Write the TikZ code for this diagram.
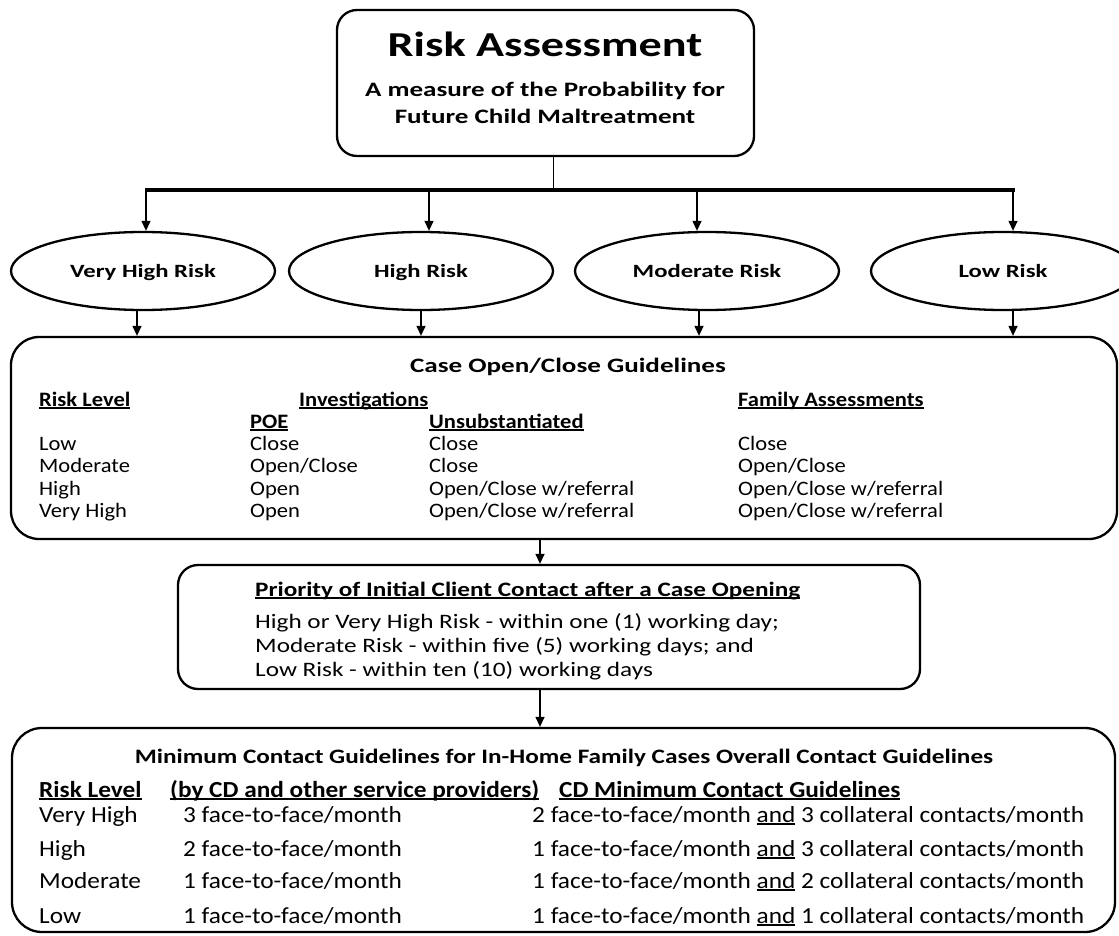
\documentclass[tikz,border=0pt]{standalone}
\usepackage{fontspec}
\setmainfont{Carlito}[FakeStretch=1.1]
\newfontfamily\widefont{Carlito}[FakeStretch=1.23]
\newfontfamily\titlefont{Carlito}[FakeStretch=1.32]
\usepackage{tikz}
\usetikzlibrary{shapes,positioning,calc}
\usetikzlibrary{shapes.geometric, arrows}
\usetikzlibrary{arrows.meta}
\tikzstyle{arrow} = [line width=1.3pt,-{Triangle[length=10pt,width=9pt]}]
\newlength\ulwd
\newcommand{\undl}[1]{\settowidth{\ulwd}{#1}\rlap{\rule[-2.6pt]{\ulwd}{1.2pt}}#1}

\begin{document}
\begin{tikzpicture}[x=1pt,y=-1pt,
	frame/.style={draw, line width=2.3pt, rounded corners=#1, inner sep=0pt},
	risk/.style={ellipse, draw, line width=2.3pt, minimum width=264pt, minimum height=78pt, inner sep=0pt, text height=12pt, text depth=0pt, font=\titlefont\fontsize{18.7}{20}\selectfont\bfseries},
	heading/.style={anchor=base, inner sep=0pt, font=\titlefont\fontsize{20.5}{22}\selectfont\bfseries},
	cell/.style={anchor=base west, inner sep=0pt, font=\fontsize{20.5}{22}\selectfont},
	head/.style={cell, font=\fontsize{20.5}{22}\selectfont\bfseries},
	line/.style={cell, font=\widefont\fontsize{20.5}{22}\selectfont},
	wide/.style={anchor=base west, inner sep=0pt, font=\fontsize{23}{25}\selectfont},
	widehead/.style={wide, font=\fontsize{23}{25}\selectfont\bfseries}]
	\clip (0,0) rectangle (1119,936);
	
	% RISK ASSESSMENT
	
	\node [frame=20pt, minimum width=417pt, minimum height=146pt] (assess) at (545.5,83) {};
	\node [heading, font=\titlefont\fontsize{35}{40}\selectfont\bfseries] (assesstitle) at (545,57) {Risk Assessment};
	\node [heading] (assesssub1) at (545,97) {A measure of the Probability for};
	\node [heading] (assesssub2) at (545,124) {Future Child Maltreatment};
	
	% RISK LEVELS
	
	\node [risk] (vhigh) at (143,271) {Very High Risk};
	\node [risk] (high) at (421,271) {High Risk};
	\node [risk] (moder) at (707,271) {Moderate Risk};
	\node [risk] (low) at (1003,271) {Low Risk};
	
	\coordinate (barL) at (146,190);
	\coordinate (barR) at (1014,190);
	\draw [line width=1.6pt] ([xshift=8pt]assess.south) -- ([xshift=8pt]assess.south |- barL);
	\draw [line width=4pt] ([xshift=-0.65pt]barL) -- ([xshift=0.65pt]barR);
	\foreach \x/\e in {146/vhigh,429/high,697/moder,1013/low}{
		\coordinate (drop\e) at (\x,190);
		\draw [arrow] (drop\e) -- (drop\e |- \e.north);
	}
	
	% CASE OPEN/CLOSE
	
	\node [frame=28pt, minimum width=1106pt, minimum height=202pt] (caseopen) at (564,438) {};
	\foreach \e/\s in {vhigh/-6,high/0,moder/-8,low/10}
		\draw [arrow] ($(\e.south)+(\s,0)$) -- ($(\e.south |- caseopen.north)+(\s,0)$);
	
	\node [heading] (casetitle) at (568,372) {Case Open/Close Guidelines};
	\node [head] (caselevel) at (39,406) {\undl{Risk Level}};
	\node [head] (caseinv) at (299,406) {\undl{Investigations}};
	\node [head] (casefam) at (738,406) {\undl{Family Assessments}};
	\node [head] (casepoe) at (250,428) {\undl{POE}};
	\node [head] (caseunsub) at (429,428) {\undl{Unsubstantiated}};
	
	\node [cell] (lowA) at (39,450) {Low};
	\node [cell] (lowB) at (250,450) {Close};
	\node [cell] (lowC) at (429,450) {Close};
	\node [cell] (lowD) at (738,450) {Close};
	\node [cell] (modA) at (39,472) {Moderate};
	\node [cell] (modB) at (250,472) {Open/Close};
	\node [cell] (modC) at (429,472) {Close};
	\node [cell] (modD) at (738,472) {Open/Close};
	\node [cell] (hiA) at (39,495) {High};
	\node [cell] (hiB) at (250,495) {Open};
	\node [cell] (hiC) at (429,495) {Open/Close w/referral};
	\node [cell] (hiD) at (738,495) {Open/Close w/referral};
	\node [cell] (vhiA) at (39,517) {Very High};
	\node [cell] (vhiB) at (250,517) {Open};
	\node [cell] (vhiC) at (429,517) {Open/Close w/referral};
	\node [cell] (vhiD) at (738,517) {Open/Close w/referral};
	
	% PRIORITY OF CONTACT
	
	\coordinate (spine) at (540,0);
	\node [frame=20pt, minimum width=742pt, minimum height=124pt] (prior) at (549,627) {};
	\draw [arrow] (caseopen.south -| spine) -- (prior.north -| spine);
	
	\node [line, font=\widefont\fontsize{20.5}{22}\selectfont\bfseries] (priortitle) at (255,596) {\undl{Priority of Initial Client Contact after a Case Opening}};
	\node [line] (prior1) at (255,628) {High or Very High Risk - within one (1) working day;};
	\node [line] (prior2) at (255,652) {Moderate Risk - within five (5) working days; and};
	\node [line] (prior3) at (255,676) {Low Risk - within ten (10) working days};
	
	% MINIMUM CONTACT
	
	\node [frame=30pt, minimum width=1103pt, minimum height=204pt] (mincontact) at (563.5,830) {};
	\draw [arrow] (prior.south -| spine) -- (mincontact.north -| spine);
	
	\node [heading, font=\widefont\fontsize{20.5}{22}\selectfont\bfseries] (mintitle) at (564,763) {Minimum Contact Guidelines for In-Home Family Cases Overall Contact Guidelines};
	\node [widehead] (minlevel) at (39,797) {\undl{Risk Level}};
	\node [widehead] (minby) at (170,797) {\undl{(by CD and other service providers)}};
	\node [widehead] (mincd) at (559,797) {\undl{CD Minimum Contact Guidelines}};
	
	\node [wide] (vhiE) at (39,822) {Very High};
	\node [wide] (vhiF) at (183,822) {3 face-to-face/month};
	\node [wide] (vhiG) at (532,822) {2 face-to-face/month \undl{and} 3 collateral contacts/month};
	\node [wide] (hiE) at (39,856) {High};
	\node [wide] (hiF) at (183,856) {2 face-to-face/month};
	\node [wide] (hiG) at (532,856) {1 face-to-face/month \undl{and} 3 collateral contacts/month};
	\node [wide] (modE) at (39,888) {Moderate};
	\node [wide] (modF) at (183,888) {1 face-to-face/month};
	\node [wide] (modG) at (532,888) {1 face-to-face/month \undl{and} 2 collateral contacts/month};
	\node [wide] (lowE) at (39,923) {Low};
	\node [wide] (lowF) at (183,923) {1 face-to-face/month};
	\node [wide] (lowG) at (532,923) {1 face-to-face/month \undl{and} 1 collateral contacts/month};
	
\end{tikzpicture}
\end{document}
